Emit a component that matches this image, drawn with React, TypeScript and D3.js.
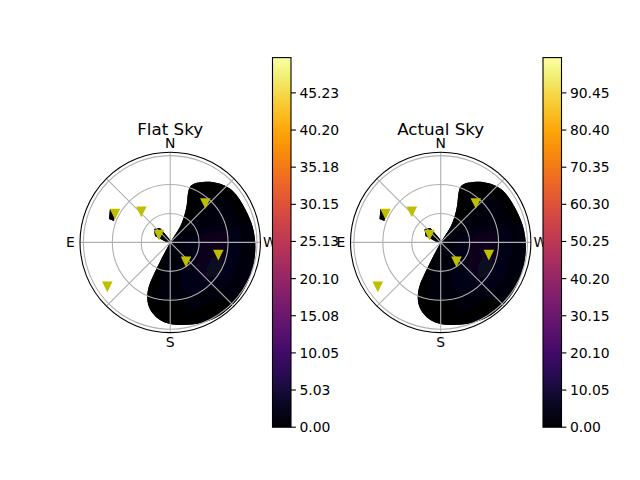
import React from 'react';
import * as d3 from 'd3';

// ---------- data ----------
const panelTitles = ['Flat Sky', 'Actual Sky'];
const compassLabels = ['N', 'E', 'S', 'W'];
const compassAz = [0, 90, 180, 270];
const spokeAz = [0, 45, 90, 135, 180, 225, 270, 315];
const ringTicks = [30, 60, 90];
const zenMax = 93.5;

// heat-map cells: zenith ring edges x azimuth sector centres (30 deg wide)
const cellZenEdges = [0, 15, 30, 45, 60, 75, 93.5];
const cellAzCenters = [0, 30, 60, 90, 120, 150, 180, 210, 240, 270, 300, 330];
const flatSkyCells = [
  [0.4, 0.3, 0.3, 0.3, 0.4, 0.6, 0.9, 1.1, 1.3, 1.2, 0.9, 0.6],
  [0.3, 0.2, 0.2, 0.2, 0.3, 0.5, 0.9, 1.4, 1.8, 1.6, 1.0, 0.5],
  [0.2, 0.1, 0.1, 0.1, 0.2, 0.4, 0.9, 1.9, 2.7, 2.4, 1.2, 0.4],
  [0.1, 0.1, 0.1, 0.1, 0.1, 0.3, 0.8, 1.8, 3.0, 2.6, 1.1, 0.3],
  [0.1, 0.1, 0.1, 0.1, 0.1, 0.2, 0.5, 1.1, 1.9, 1.6, 0.7, 0.2],
  [0.1, 0.1, 0.1, 0.1, 0.1, 0.1, 0.3, 0.5, 0.8, 0.7, 0.3, 0.1],
];
const actualSkyCells = [
  [0.8, 0.6, 0.6, 0.6, 0.8, 1.2, 1.8, 2.2, 2.6, 2.4, 1.8, 1.2],
  [0.6, 0.4, 0.4, 0.4, 0.6, 1.0, 1.8, 2.8, 3.6, 3.2, 2.0, 1.0],
  [0.4, 0.2, 0.2, 0.2, 0.4, 0.8, 1.8, 3.8, 5.4, 4.8, 2.4, 0.8],
  [0.2, 0.2, 0.2, 0.2, 0.2, 0.6, 1.6, 3.6, 6.0, 5.2, 2.2, 0.6],
  [0.2, 0.2, 0.2, 0.2, 0.2, 0.4, 1.0, 2.2, 3.8, 3.2, 1.4, 0.4],
  [0.2, 0.2, 0.2, 0.2, 0.2, 0.2, 0.6, 1.0, 1.6, 1.4, 0.6, 0.2],
];

// valid (non-masked) sky region outline, azimuth / zenith in degrees
const skyRegionAz = [0, 327.0, 328.0, 331.8, 336.2, 340.1, 340.4, 337.2, 331.3, 324.4, 317.2, 310.4, 301.3,
  291.9, 280.8, 269.4, 258.2, 246.7, 234.6, 222.7, 211.8, 200.2, 189.0, 180.0, 172.5, 166.1, 160.7,
  156.5, 153.9, 152.8, 152.1, 151.1];
const skyRegionZen = [0, 9.1, 19.2, 30.2, 42.4, 54.1, 61.3, 66.4, 71.4, 76.7, 81.1, 83.8, 84.7,
  85.4, 87.0, 88.2, 89.1, 90.0, 91.0, 91.5, 91.4, 89.4, 86.7, 84.6, 81.1, 75.7, 68.7,
  59.5, 49.2, 36.0, 22.6, 9.0];
const spotAAz = [61.0, 59.6, 69.2, 69.1];
const spotAZen = [71.4, 66.3, 62.3, 67.9];
const spotBAz = [50.4, 35.3, 330.0, 105.3, 67.2];
const spotBZen = [21.8, 18.3, 1.7, 2.4, 17.1];

// sources (yellow triangles)
const sourceAz = [62.5, 43.0, 55.5, 318.2, 219.7, 255.7, 125.0];
const sourceZen = [64.5, 43.9, 14.1, 54.6, 25.6, 51.5, 79.6];

// colour bars
const flatSkyMax = 50.0;
const actualSkyMax = 100.0;
const flatSkyTicks = [0, 5.03, 10.05, 15.08, 20.10, 25.13, 30.15, 35.18, 40.20, 45.23];
const actualSkyTicks = [0, 10.05, 20.10, 30.15, 40.20, 50.25, 60.30, 70.35, 80.40, 90.45];

// ---------- layout ----------
const W = 640;
const H = 480;
const FONT = 'DejaVu Sans, Liberation Sans, sans-serif';
const R = 90.2;
const CY = 242.4;
const CB_TOP = 57.6;
const CB_BOTTOM = 427.2;
const CB_W = 18.5;
const DEG = Math.PI / 180;

interface PanelProps {
  id: string;
  cx: number;
  cbX: number;
  title: string;
  cells: number[][];
  vmax: number;
  ticks: number[];
}

function Panel({ id, cx, cbX, title, cells, vmax, ticks }: PanelProps) {
  const r = d3.scaleLinear().domain([0, zenMax]).range([0, R]);
  const color = d3.scaleSequential(d3.interpolateInferno).domain([0, vmax]);
  const arc = d3.arc<any>();
  const radial = d3
    .lineRadial<[number, number]>()
    .angle((d) => -d[0] * DEG)
    .radius((d) => r(d[1]));
  const regionPath = radial.curve(d3.curveCatmullRomClosed.alpha(0.5))(
    skyRegionAz.map((a, i) => [a, skyRegionZen[i]] as [number, number])
  ) as string;
  const linClosed = d3
    .lineRadial<[number, number]>()
    .angle((d) => -d[0] * DEG)
    .radius((d) => r(d[1]))
    .curve(d3.curveLinearClosed);
  const spotA = linClosed(spotAAz.map((a, i) => [a, spotAZen[i]] as [number, number])) as string;
  const spotB = linClosed(spotBAz.map((a, i) => [a, spotBZen[i]] as [number, number])) as string;

  const xy = (az: number, zen: number): [number, number] => [
    cx - r(zen) * Math.sin(az * DEG),
    CY - r(zen) * Math.cos(az * DEG),
  ];

  const cb = d3.scaleLinear().domain([0, vmax]).range([CB_BOTTOM, CB_TOP]);
  const stops = d3.range(0, 1.0001, 0.05);
  const tri = 4.17;

  return (
    <g>
      <defs>
        <clipPath id={`region-${id}`}>
          <path d={regionPath} transform={`translate(${cx},${CY})`} />
          <path d={spotA} transform={`translate(${cx},${CY})`} />
          <path d={spotB} transform={`translate(${cx},${CY})`} />
        </clipPath>
        <filter id={`blur-${id}`} x="-20%" y="-20%" width="140%" height="140%">
          <feGaussianBlur stdDeviation="7" />
        </filter>
        <linearGradient id={`grad-${id}`} x1="0" y1="1" x2="0" y2="0">
          {stops.map((t, i) => (
            <stop key={i} offset={t} stopColor={d3.interpolateInferno(t)} />
          ))}
        </linearGradient>
      </defs>

      {/* heat map */}
      <g clipPath={`url(#region-${id})`}>
        <circle cx={cx} cy={CY} r={R + 4} fill={color(cells[cells.length - 1][0])} />
        <g filter={`url(#blur-${id})`} transform={`translate(${cx},${CY})`}>
          {cells.map((row, i) =>
            row.map((v, j) => (
              <path
                key={`${i}-${j}`}
                d={
                  arc({
                    innerRadius: r(cellZenEdges[i]),
                    outerRadius: r(cellZenEdges[i + 1]) + (i === cells.length - 1 ? 6 : 0),
                    startAngle: -(cellAzCenters[j] + 15) * DEG,
                    endAngle: -(cellAzCenters[j] - 15) * DEG,
                  }) as string
                }
                fill={color(v)}
                stroke={color(v)}
                strokeWidth={0.5}
              />
            ))
          )}
        </g>
      </g>

      {/* grid */}
      {ringTicks.map((t) => (
        <circle key={t} cx={cx} cy={CY} r={r(t)} fill="none" stroke="#b0b0b0" strokeWidth={1.1} />
      ))}
      {spokeAz.map((a) => {
        const [x2, y2] = xy(a, zenMax);
        return <line key={a} x1={cx} y1={CY} x2={x2} y2={y2} stroke="#b0b0b0" strokeWidth={1.1} />;
      })}
      <circle cx={cx} cy={CY} r={R} fill="none" stroke="#000" strokeWidth={1.1} />

      {/* sources */}
      {sourceAz.map((a, i) => {
        const [x, y] = xy(a, sourceZen[i]);
        return (
          <path
            key={i}
            d={`M${x - tri},${y - tri}L${x + tri},${y - tri}L${x},${y + tri}Z`}
            fill="#bfbf00"
            stroke="#bfbf00"
            strokeWidth={1.39}
            strokeLinejoin="miter"
          />
        );
      })}

      {/* compass labels */}
      {compassLabels.map((lab, i) => {
        const a = compassAz[i] * DEG;
        const d = R + 9.5;
        return (
          <text
            key={lab}
            x={cx - d * Math.sin(a)}
            y={CY - d * Math.cos(a)}
            textAnchor="middle"
            dominantBaseline="central"
            fontFamily={FONT}
            fontSize={13.9}
            fill="#000"
          >
            {lab}
          </text>
        );
      })}

      <text x={cx} y={135} textAnchor="middle" fontFamily={FONT} fontSize={16.7} fill="#000">
        {title}
      </text>

      {/* colour bar */}
      <rect x={cbX} y={CB_TOP} width={CB_W} height={CB_BOTTOM - CB_TOP} fill={`url(#grad-${id})`} />
      <rect
        x={cbX}
        y={CB_TOP}
        width={CB_W}
        height={CB_BOTTOM - CB_TOP}
        fill="none"
        stroke="#000"
        strokeWidth={1.1}
      />
      {ticks.map((t) => (
        <g key={t}>
          <line x1={cbX + CB_W} x2={cbX + CB_W + 4.9} y1={cb(t)} y2={cb(t)} stroke="#000" strokeWidth={1.1} />
          <text
            x={cbX + CB_W + 8.4}
            y={cb(t)}
            dominantBaseline="central"
            fontFamily={FONT}
            fontSize={13.9}
            fill="#000"
          >
            {t.toFixed(2)}
          </text>
        </g>
      ))}
    </g>
  );
}

export default function App() {
  return (
    <svg
      width={W}
      height={H}
      viewBox={`0 0 ${W} ${H}`}
      style={{ position: 'absolute', left: 0, top: 0, background: '#fff' }}
    >
      <rect width={W} height={H} fill="#fff" />
      <Panel
        id="flat"
        cx={170.2}
        cbX={272.5}
        title={panelTitles[0]}
        cells={flatSkyCells}
        vmax={flatSkyMax}
        ticks={flatSkyTicks}
      />
      <Panel
        id="actual"
        cx={440.7}
        cbX={543.0}
        title={panelTitles[1]}
        cells={actualSkyCells}
        vmax={actualSkyMax}
        ticks={actualSkyTicks}
      />
    </svg>
  );
}
